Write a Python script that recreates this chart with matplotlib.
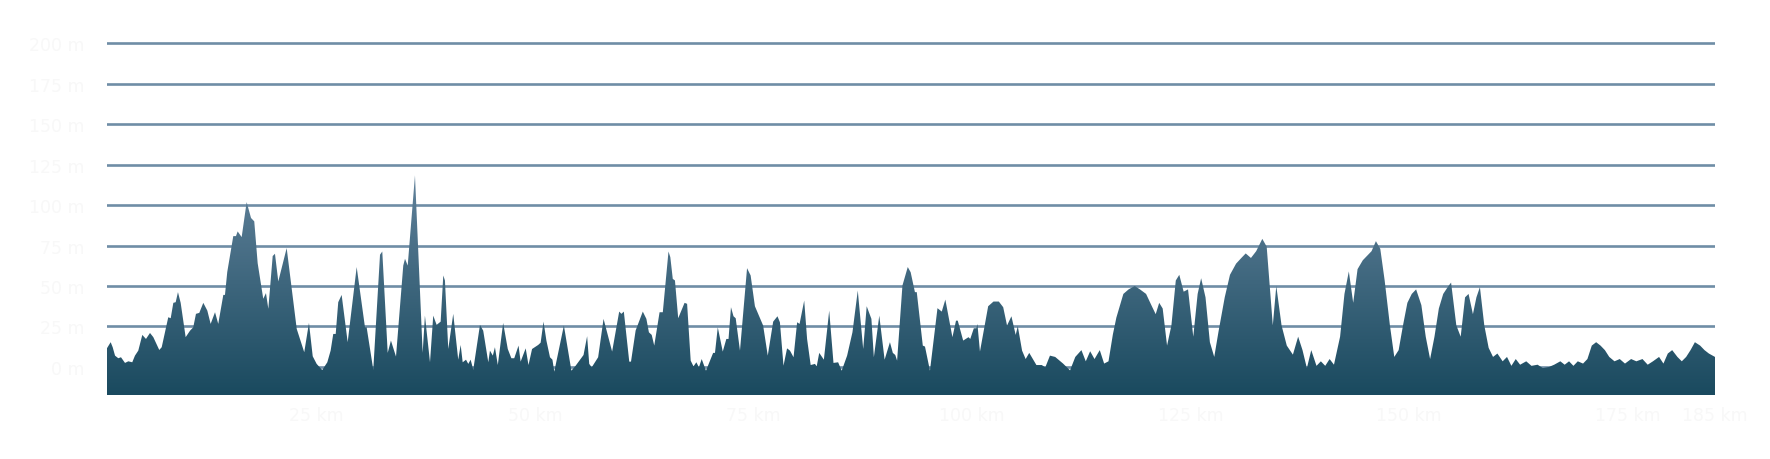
import numpy as np
import matplotlib
matplotlib.use("Agg")
import matplotlib.pyplot as plt
from matplotlib.colors import LinearSegmentedColormap

# elevation profile (km, m)
dist_km = [1.0, 1.42, 1.65, 1.92, 2.29, 2.60, 3.06, 3.44, 3.89, 4.20, 4.58, 5.04, 5.46, 5.92, 6.30,
           6.98, 7.26, 8.01, 8.29, 8.59, 8.86, 9.12, 9.43, 10.00, 10.50, 10.87, 11.18, 11.56, 12.02,
           12.48, 12.86, 13.36, 13.73, 14.31, 14.50, 14.76, 15.45, 15.76, 15.95, 16.41, 16.98, 17.48,
           17.85, 18.24, 18.88, 19.19, 19.46, 19.96, 20.22, 20.60, 21.56, 22.71, 23.57, 24.11, 24.54,
           24.99, 25.63, 26.21, 26.59, 26.89, 27.17, 27.46, 27.85, 28.54, 29.57, 30.52, 30.71, 31.47,
           32.24, 32.50, 33.12, 33.49, 34.07, 34.90, 35.10, 35.41, 36.24, 37.12, 37.38, 37.96, 38.33,
           38.72, 39.18, 39.48, 39.67, 40.05, 40.62, 41.19, 41.47, 41.70, 42.08, 42.34, 42.61, 42.91,
           43.68, 44.05, 44.63,
           44.82, 45.15, 45.39, 45.72, 46.33, 46.86, 47.27, 47.60, 48.09, 48.33, 48.91, 49.23, 49.64,
           50.34, 50.62, 50.95, 51.28, 51.69, 51.97, 52.18, 53.28, 54.14, 54.63, 55.53, 55.94, 56.18,
           56.47, 57.20, 57.82, 58.80, 59.61, 59.86, 60.14, 60.76, 60.96, 61.49, 62.31, 62.72, 63.01,
           63.33, 63.62, 64.23, 64.60, 65.25, 65.46, 65.74, 65.99, 66.36, 67.09, 67.38, 67.79, 68.11,
           68.44, 68.73, 69.05, 69.54, 70.36, 70.57, 70.89, 71.46, 71.87, 72.12, 72.40, 72.69, 72.94,
           73.43, 74.24, 74.65, 75.14, 76.08, 76.61, 77.23, 77.72, 78.00, 78.41, 78.82, 79.15, 79.56,
           79.97, 80.25, 80.78, 81.11, 81.52, 82.01, 82.21, 82.50, 83.03, 83.64, 84.13, 84.66, 85.07,
           85.69, 86.30, 86.91, 87.53, 87.93, 88.47, 88.75, 89.37, 89.98, 90.59, 90.92, 91.20, 91.41,
           92.02, 92.63, 92.96, 93.45, 93.66, 94.35, 94.60, 95.17, 96.03, 96.52, 96.93, 97.74, 98.15,
           98.35, 98.97, 99.58, 99.78, 100.19, 100.48, 100.60, 100.89, 101.83, 102.44, 103.05, 103.55,
           103.99, 104.49, 104.98, 105.22, 105.71, 106.12, 106.53, 107.35, 107.96, 108.37, 108.90,
           109.5, 110.4, 111.2, 111.8, 112.5, 113.0, 113.5, 114.0, 114.6, 115.1, 115.6, 116.1, 116.5,
           117.3, 117.9, 118.6, 119.2, 119.9, 120.5, 121.0, 121.4, 121.8, 122.3, 122.8, 123.3, 123.7,
           124.2, 124.7, 125.3, 125.8, 126.2, 126.7, 127.2, 127.7, 128.2, 128.9, 129.5, 130.2, 130.8,
           131.3, 131.9, 132.5, 133.2, 133.7, 134.1, 134.4, 134.8, 135.4, 136.0, 136.7, 137.3, 137.8,
           138.3, 138.8, 139.4, 139.9, 140.4, 140.9, 141.4, 142.1, 142.6, 143.1, 143.6, 144.1, 144.7,
           145.2, 145.7, 146.2, 146.7, 147.2, 147.8, 148.3, 148.8, 149.3, 149.8, 150.3, 150.8, 151.4,
           151.9, 152.4, 152.9, 153.4, 153.9, 154.5, 154.8, 155.4, 155.9, 156.4, 156.8, 157.3, 157.7,
           158.1, 158.6, 159.1, 159.6, 160.1, 160.7, 161.2, 161.7, 162.2, 162.7, 163.4, 164.0, 164.7,
           165.3, 166.0, 166.6, 167.3, 167.8, 168.3, 168.8, 169.3, 169.9, 170.4, 170.9, 171.4, 171.9,
           172.4, 172.9, 173.5, 174.1, 174.7, 175.4, 176.0, 176.7, 177.3, 177.9, 178.6, 179.1, 179.6,
           180.1, 180.7, 181.2, 181.7, 182.2, 182.7, 183.3, 183.8, 184.3, 185.0]

elev_m = [11.6, 15.3, 12.2, 7.0, 5.4, 6.0, 2.5, 3.5, 2.9, 7.0, 10.1, 19.8, 17.3, 21.0, 18.4,
          10.5, 12.2, 30.7, 30.1, 39.6, 40.0, 46.2, 39.6, 18.4, 22.4, 24.5, 32.8, 33.4, 39.6,
          34.8, 26.6, 33.8, 26.6, 44.5, 44.5, 58.6, 80.8, 80.8, 83.7, 80.2, 101.8, 92.0,
          89.9, 64.1, 42.1, 45.6, 35.9, 68.5, 69.9, 52.8, 73.4, 23.5, 9.1, 27.2, 6.6,
          1.9, -1.9, 2.9, 10.1, 20.4, 20.4, 40.0, 44.5, 15.3, 61.7, 24.5, 24.5, -1.7,
          69.3, 71.3, 8.7, 16.3, 6.4, 62.6, 66.8, 62.6, 118.3, 8.7, 31.7, 2.9, 31.7,
          26.0, 28.0, 56.5, 53.4, 11.1, 32.8, 4.5, 13.6, 2.9, 4.5, 1.9, 4.5, -1.7,
          26.0, 22.4, 2.9,
          10.1, 7.0, 12.2, 1.2, 27.2, 11.1, 5.4, 5.4, 13.2, 3.3, 11.5, 1.2, 11.1,
          13.6, 15.0, 28.0, 16.3, 6.0, 4.5, -2.9, 25.6, -2.3, 0.8, 7.4, 19.0, 1.9,
          -0.2, 6.0, 29.7, 9.5, 34.2, 32.8, 34.2, 3.3, 3.3, 22.5, 34.2, 29.7, 21.4,
          19.8, 13.2, 33.8, 33.8, 71.3, 67.8, 54.4, 53.4, 30.1, 39.6, 39.0, 3.9, 0.4,
          2.9, -0.2, 4.9, -2.3, 8.7, 8.7, 24.5, 9.5, 17.3, 17.3, 36.9, 31.3, 30.1,
          10.1, 61.0, 56.5, 37.5, 25.6, 7.0, 28.0, 31.3, 27.6, 0.8, 11.5, 10.1, 6.0,
          27.6, 26.6, 41.0, 17.3, 1.2, 1.9, 0.4, 8.7, 4.5, 34.8, 2.5, 2.9, -2.3,
          7.0, 21.4, 47.2, 11.1, 37.5, 29.7, 6.0, 31.7, 4.5, 15.3, 8.7, 7.4, 3.9,
          50.3, 61.7, 58.5, 46.2, 46.2, 13.2, 12.6, -2.3, 36.3, 34.2, 41.6, 18.4, 28.6,
          28.6, 16.3, 18.4, 17.3, 23.9, 23.9, 26.6, 9.5, 37.5, 40.4, 40.4, 36.9,
          25.6, 31.3, 19.8, 25.2, 10.1, 4.9, 8.7, 1.2, 1.2, -0.2, 7.0,
          6.2, 2.1, -2.1, 6.2, 10.4, 3.5, 9.7, 4.9, 10.4, 2.1, 3.5, 20.1, 30.5,
          45.1, 47.9, 50.0, 47.9, 45.1, 38.2, 32.6, 39.6, 36.1, 13.2, 25.7, 53.4, 56.9,
          46.5, 47.9, 18.7, 45.1, 54.8, 43.0, 15.3, 6.2, 22.2, 43.0, 56.9, 63.8, 67.3,
          70.1, 67.3, 71.5, 79.1, 74.3, 46.5, 25.7, 50.0, 25.7, 13.2, 7.6, 18.7, 10.4,
          -0.7, 10.4, 0.7, 3.5, 0.7, 4.9, 1.4, 18.7, 45.1, 59.0, 39.6, 60.4, 65.9,
          68.7, 71.5, 77.7, 72.9, 53.4, 25.7, 6.2, 10.4, 25.7, 39.6, 45.1, 47.9, 38.2,
          18.7, 4.9, 18.7, 36.1, 45.1, 50.0, 52.1, 25.7, 18.7, 43.0, 45.1, 32.6, 43.0,
          49.3, 25.7, 11.8, 6.2, 8.3, 3.5, 6.2, 0.7, 4.9, 1.4, 3.5, 0.7, 1.4,
          -0.7, 0.0, 1.4, 3.5, 1.4, 3.5, 0.7, 3.5, 2.1, 4.9, 13.2, 15.3, 13.2,
          10.4, 6.2, 3.5, 4.9, 2.1, 4.9, 3.5, 4.9, 1.4, 3.5, 6.2, 2.1, 8.3,
          10.4, 6.2, 3.5, 6.2, 10.4, 15.3, 13.2, 10.4, 8.3, 6.2]

y_ticks = [0, 25, 50, 75, 100, 125, 150, 175, 200]
y_labels = ["0 m", "25 m", "50 m", "75 m", "100 m", "125 m", "150 m", "175 m", "200 m"]
x_ticks = [25, 50, 75, 100, 125, 150, 175, 185]
x_labels = ["25 km", "50 km", "75 km", "100 km", "125 km", "150 km", "175 km", "185 km"]

y_bottom = -17.3
label_color = "#f8f8f8"

fig = plt.figure(figsize=(17.7, 4.6), dpi=100)
ax = fig.add_axes([107 / 1770, 64 / 460, 1608 / 1770, (419.2 - 64) / 460])

x = np.array(dist_km)
y = np.array(elev_m)

# invisible fill, only used as clip path for the gradient
poly = ax.fill_between(x, y, y_bottom, color="none", lw=0)
clip = poly.get_paths()[0]

cmap = LinearSegmentedColormap.from_list("elev", ["#1a4a5f", "#63839c"])
grad = np.linspace(0, 1, 256).reshape(-1, 1)
im = ax.imshow(grad, aspect="auto", cmap=cmap, origin="lower",
               extent=[x.min(), x.max(), y_bottom, 122], zorder=2)
im.set_clip_path(clip, transform=ax.transData)

ax.set_xlim(1.0, 185.0)
ax.set_ylim(y_bottom, 202)

ax.set_yticks(y_ticks)
ax.set_yticklabels(y_labels)
ax.set_xticks(x_ticks)
ax.set_xticklabels(x_labels)
ax.yaxis.grid(True, color="#6f8da6", lw=1.9, zorder=0)
ax.set_axisbelow(True)
ax.tick_params(axis="both", length=0, labelsize=12.5, labelcolor=label_color)
ax.tick_params(axis="y", pad=16)
ax.tick_params(axis="x", pad=8)
for s in ax.spines.values():
    s.set_visible(False)

fig.savefig("out.png", dpi=100, facecolor="white")
